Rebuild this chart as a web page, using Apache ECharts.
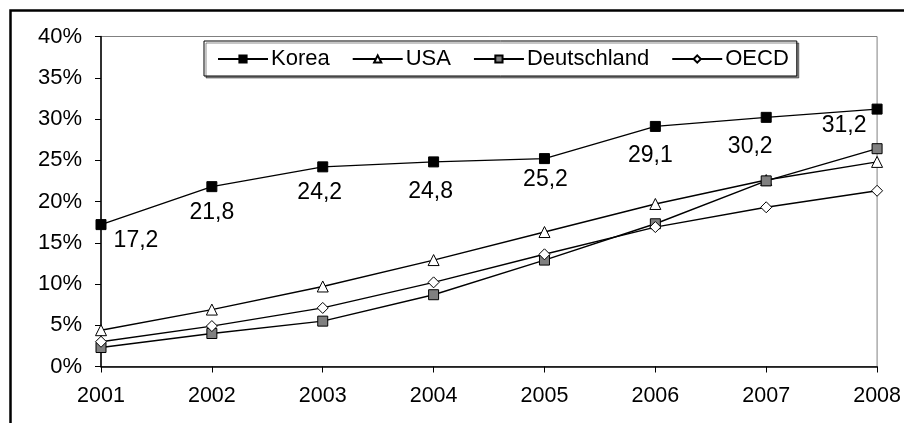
<!DOCTYPE html>
<html>
<head>
<meta charset="utf-8">
<script src="https://cdn.jsdelivr.net/npm/echarts@6/dist/echarts.min.js"></script>
<style>html,body{margin:0;padding:0;background:#fff}#c{width:904px;height:423px}</style>
</head>
<body>
<div id="c"></div>
<script>
const years = ['2001','2002','2003','2004','2005','2006','2007','2008'];
const korea = [17.2, 21.8, 24.2, 24.8, 25.2, 29.1, 30.2, 31.2];
const usa = [4.4, 6.9, 9.7, 12.9, 16.3, 19.7, 22.6, 24.8];
const deutschland = [2.3, 4.0, 5.5, 8.7, 12.9, 17.3, 22.5, 26.4];
const oecd = [3.0, 4.9, 7.1, 10.2, 13.6, 16.9, 19.3, 21.3];
const yMin = 0, yMax = 40, yStep = 5;

// label placement (styling only)
const koreaLabelOffsets = [[35,16],[0,26],[-3,26],[-3,30],[1,21],[-5,29],[-16,29],[-33,17]];

const FONT = 'Liberation Sans, Arial, sans-serif';
const chart = echarts.init(document.getElementById('c'), null, {renderer:'canvas'});

function mkSeries(name, data, symbol, size, fill, extra) {
  return Object.assign({
    name, type:'line', data, symbol, symbolSize:size, showAllSymbol:true,
    lineStyle:{color:'#000', width:1.4},
    itemStyle:{color:fill, borderColor:'#000', borderWidth:1},
    emphasis:{disabled:true}, animation:false, z:3
  }, extra||{});
}

const option = {
  backgroundColor:'#fff',
  animation:false,
  textStyle:{fontFamily:FONT},
  graphic:[{
    type:'rect', left:8, top:8, shape:{x:0,y:0,width:1000,height:1000},
    style:{fill:'none', stroke:'#000', lineWidth:2.5}, silent:true, z:0
  }],
  grid:{left:101, right:25, top:36.5, bottom:56.5, show:true, borderColor:'#808080', borderWidth:1},
  legend:{
    left:204, top:41,
    padding:[7,8,6,13],
    itemGap:22, itemWidth:50, itemHeight:9,
    borderColor:'#000', borderWidth:1, backgroundColor:'#fff',
    shadowColor:'rgba(0,0,0,0.45)', shadowOffsetX:2, shadowOffsetY:2, shadowBlur:0,
    textStyle:{color:'#000', fontSize:22, fontFamily:FONT, padding:[0,0,0,-2]},
    data:['Korea','USA','Deutschland','OECD']
  },
  xAxis:{
    type:'category', data:years, boundaryGap:false,
    axisLine:{lineStyle:{color:'#000', width:1.5}},
    axisTick:{show:true, length:6, alignWithLabel:true, lineStyle:{color:'#000'}},
    axisLabel:{color:'#000', fontSize:21.5, margin:19, fontFamily:FONT},
    splitLine:{show:false}
  },
  yAxis:{
    type:'value', min:yMin, max:yMax, interval:yStep,
    axisLine:{show:true, lineStyle:{color:'#000', width:1.5}},
    axisTick:{show:true, length:6, lineStyle:{color:'#000'}},
    axisLabel:{color:'#000', fontSize:22, margin:19, formatter:'{value}%', fontFamily:FONT},
    splitLine:{show:false}
  },
  series:[
    mkSeries('Korea', korea.map((v,i)=>({value:v, label:{offset:koreaLabelOffsets[i]}})), 'rect', 10, '#000', {
      label:{show:true, position:'inside', color:'#000', fontSize:23, fontFamily:FONT,
        formatter:p=>String(p.value).replace('.',','), align:'center', verticalAlign:'middle'}
    }),
    mkSeries('USA', usa, 'triangle', 11, '#fff'),
    mkSeries('Deutschland', deutschland, 'rect', 10, '#808080'),
    mkSeries('OECD', oecd, 'diamond', 11, '#fff')
  ]
};
chart.setOption(option);
</script>
</body>
</html>
